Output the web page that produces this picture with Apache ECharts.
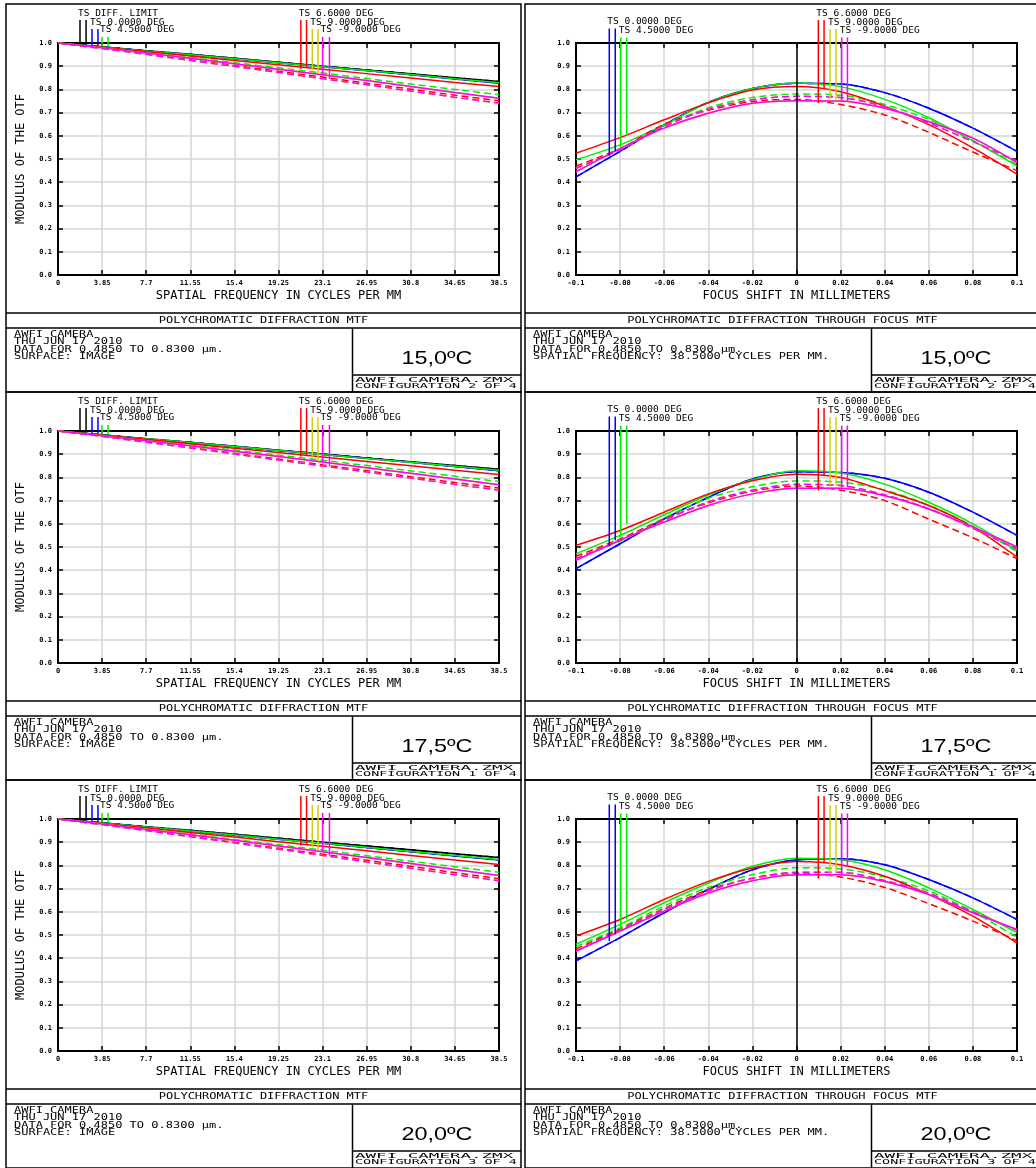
<!DOCTYPE html>
<html>
<head>
<meta charset="utf-8">
<script src="https://cdn.jsdelivr.net/npm/echarts@6/dist/echarts.min.js"></script>
<style>
html, body { margin: 0; padding: 0; background: #fff; }
#chart { width: 1036px; height: 1168px; }
</style>
</head>
<body>
<div id="chart"></div>
<script>
// ---- axis values / tick labels ----
var freqs = [0, 3.85, 7.7, 11.55, 15.4, 19.25, 23.1, 26.95, 30.8, 34.65, 38.5];
var freqTicks = ['0', '3.85', '7.7', '11.55', '15.4', '19.25', '23.1', '26.95', '30.8', '34.65', '38.5'];
var focusShift = [-0.1, -0.08, -0.06, -0.04, -0.02, 0, 0.02, 0.04, 0.06, 0.08, 0.1];
var focusTicks = ['-0.1', '-0.08', '-0.06', '-0.04', '-0.02', '0', '0.02', '0.04', '0.06', '0.08', '0.1'];
var mtfTicks = ['0.0', '0.1', '0.2', '0.3', '0.4', '0.5', '0.6', '0.7', '0.8', '0.9', '1.0'];

// ---- MTF vs spatial frequency (T solid, S dashed) ----
// 15,0 C
var mtf15Diff = [1.000, 0.984, 0.967, 0.951, 0.934, 0.917, 0.900, 0.884, 0.867, 0.850, 0.834];
var mtf15Axis = [1.000, 0.983, 0.966, 0.949, 0.932, 0.915, 0.898, 0.881, 0.863, 0.845, 0.827];
var mtf15F45T = [1.000, 0.983, 0.966, 0.949, 0.932, 0.915, 0.898, 0.881, 0.864, 0.846, 0.829];
var mtf15F45S = [1.000, 0.980, 0.959, 0.937, 0.915, 0.893, 0.871, 0.847, 0.823, 0.800, 0.777];
var mtf15F66T = [1.000, 0.982, 0.963, 0.944, 0.925, 0.906, 0.887, 0.868, 0.849, 0.830, 0.812];
var mtf15F66S = [1.000, 0.977, 0.953, 0.928, 0.903, 0.878, 0.853, 0.827, 0.801, 0.775, 0.751];
var mtf15F9T = [1.000, 0.979, 0.957, 0.934, 0.911, 0.887, 0.863, 0.838, 0.813, 0.787, 0.762];
var mtf15F9S = [1.000, 0.976, 0.951, 0.925, 0.899, 0.873, 0.846, 0.820, 0.793, 0.766, 0.741];
// 17,5 C
var mtf175Diff = [1.000, 0.984, 0.967, 0.951, 0.934, 0.917, 0.901, 0.884, 0.867, 0.851, 0.835];
var mtf175Axis = [1.000, 0.983, 0.966, 0.950, 0.933, 0.916, 0.899, 0.882, 0.865, 0.847, 0.829];
var mtf175F45T = [1.000, 0.983, 0.967, 0.950, 0.933, 0.916, 0.899, 0.882, 0.865, 0.848, 0.831];
var mtf175F45S = [1.000, 0.980, 0.960, 0.939, 0.918, 0.896, 0.874, 0.851, 0.828, 0.805, 0.782];
var mtf175F66T = [1.000, 0.982, 0.964, 0.945, 0.926, 0.907, 0.888, 0.869, 0.850, 0.831, 0.813];
var mtf175F66S = [1.000, 0.977, 0.953, 0.929, 0.904, 0.879, 0.854, 0.829, 0.803, 0.778, 0.754];
var mtf175F9T = [1.000, 0.979, 0.958, 0.936, 0.913, 0.890, 0.866, 0.842, 0.818, 0.793, 0.768];
var mtf175F9S = [1.000, 0.977, 0.952, 0.927, 0.901, 0.875, 0.849, 0.823, 0.797, 0.770, 0.745];
// 20,0 C
var mtf20Diff = [1.000, 0.984, 0.967, 0.951, 0.934, 0.917, 0.900, 0.884, 0.867, 0.850, 0.834];
var mtf20Axis = [1.000, 0.983, 0.965, 0.948, 0.930, 0.913, 0.895, 0.877, 0.859, 0.841, 0.823];
var mtf20F45T = [1.000, 0.983, 0.966, 0.948, 0.931, 0.913, 0.896, 0.878, 0.860, 0.843, 0.825];
var mtf20F45S = [1.000, 0.979, 0.957, 0.935, 0.912, 0.889, 0.866, 0.842, 0.818, 0.794, 0.770];
var mtf20F66T = [1.000, 0.981, 0.962, 0.942, 0.922, 0.902, 0.883, 0.863, 0.843, 0.823, 0.804];
var mtf20F66S = [1.000, 0.976, 0.951, 0.926, 0.900, 0.874, 0.848, 0.822, 0.796, 0.769, 0.743];
var mtf20F9T = [1.000, 0.978, 0.955, 0.932, 0.908, 0.884, 0.859, 0.834, 0.808, 0.782, 0.756];
var mtf20F9S = [1.000, 0.976, 0.950, 0.924, 0.897, 0.870, 0.843, 0.815, 0.788, 0.760, 0.734];

// ---- through focus MTF at 38.5 cycles/mm ----
var tf15Axis = [0.423, 0.533, 0.647, 0.744, 0.804, 0.826, 0.823, 0.786, 0.719, 0.633, 0.533];
var tf15F45T = [0.497, 0.561, 0.647, 0.743, 0.804, 0.828, 0.812, 0.757, 0.678, 0.578, 0.470];
var tf15F45S = [0.460, 0.540, 0.640, 0.721, 0.765, 0.780, 0.775, 0.735, 0.670, 0.580, 0.475];
var tf15F66T = [0.525, 0.592, 0.669, 0.742, 0.797, 0.812, 0.790, 0.728, 0.648, 0.548, 0.435];
var tf15F66S = [0.470, 0.545, 0.650, 0.710, 0.748, 0.757, 0.735, 0.690, 0.615, 0.530, 0.450];
var tf15F9T = [0.445, 0.545, 0.633, 0.697, 0.740, 0.751, 0.750, 0.719, 0.661, 0.590, 0.485];
var tf15F9S = [0.460, 0.540, 0.640, 0.715, 0.755, 0.770, 0.765, 0.725, 0.655, 0.575, 0.490];

var tf175Axis = [0.407, 0.514, 0.621, 0.714, 0.793, 0.824, 0.821, 0.796, 0.736, 0.650, 0.550];
var tf175F45T = [0.471, 0.550, 0.639, 0.724, 0.790, 0.829, 0.819, 0.771, 0.693, 0.600, 0.486];
var tf175F45S = [0.450, 0.525, 0.625, 0.710, 0.760, 0.785, 0.780, 0.745, 0.680, 0.590, 0.480];
var tf175F66T = [0.507, 0.571, 0.650, 0.729, 0.786, 0.814, 0.800, 0.743, 0.679, 0.586, 0.457];
var tf175F66S = [0.460, 0.535, 0.620, 0.690, 0.740, 0.763, 0.745, 0.700, 0.620, 0.540, 0.450];
var tf175F9T = [0.443, 0.529, 0.607, 0.679, 0.729, 0.753, 0.753, 0.721, 0.664, 0.586, 0.500];
var tf175F9S = [0.450, 0.530, 0.615, 0.695, 0.745, 0.770, 0.765, 0.725, 0.665, 0.580, 0.490];

var tf20Axis = [0.389, 0.489, 0.596, 0.696, 0.781, 0.824, 0.829, 0.803, 0.739, 0.660, 0.567];
var tf20F45T = [0.460, 0.546, 0.639, 0.724, 0.796, 0.831, 0.824, 0.781, 0.703, 0.610, 0.510];
var tf20F45S = [0.450, 0.530, 0.625, 0.705, 0.760, 0.790, 0.785, 0.750, 0.690, 0.600, 0.490];
var tf20F66T = [0.496, 0.567, 0.653, 0.731, 0.789, 0.817, 0.803, 0.753, 0.674, 0.581, 0.465];
var tf20F66S = [0.440, 0.525, 0.615, 0.695, 0.745, 0.765, 0.750, 0.705, 0.635, 0.560, 0.475];
var tf20F9T = [0.431, 0.517, 0.603, 0.681, 0.734, 0.760, 0.760, 0.731, 0.674, 0.596, 0.524];
var tf20F9S = [0.430, 0.520, 0.610, 0.690, 0.745, 0.770, 0.770, 0.735, 0.680, 0.600, 0.520];

// ---- legend leaders (pairs of x, top, bottom ends) ----
var freqLeadNames = ['TS DIFF. LIMIT', 'TS 0.0000 DEG', 'TS 4.5000 DEG', 'TS 6.6000 DEG', 'TS 9.0000 DEG', 'TS -9.0000 DEG'];
var freqLeadX = [[1.92, 2.45], [2.97, 3.49], [3.84, 4.37], [21.2, 21.7], [22.2, 22.7], [23.1, 23.7]];
var freqLeadTop = [1.099, 1.06, 1.026, 1.099, 1.06, 1.026];
var freqLeadBottom15 = [[0.996, 0.995], [0.990, 0.989], [0.987, 0.985], [0.888, 0.895], [0.881, 0.869], [0.862, 0.845]];
var freqLeadBottom175 = [[0.996, 0.995], [0.990, 0.989], [0.987, 0.985], [0.890, 0.896], [0.884, 0.872], [0.865, 0.848]];
var freqLeadBottom20 = [[0.996, 0.995], [0.990, 0.988], [0.986, 0.984], [0.886, 0.893], [0.878, 0.866], [0.859, 0.842]];

var focusLeadNames = ['TS 0.0000 DEG', 'TS 4.5000 DEG', 'TS 6.6000 DEG', 'TS 9.0000 DEG', 'TS -9.0000 DEG'];
var focusLeadX = [[-0.0849, -0.0822], [-0.0797, -0.0770], [0.0099, 0.0125], [0.0152, 0.0179], [0.0205, 0.0231]];
var focusLeadTop = [1.063, 1.024, 1.099, 1.06, 1.024];
var focusLeadBottom15 = [[0.514, 0.533], [0.552, 0.600], [0.741, 0.804], [0.761, 0.751], [0.751, 0.751]];
var focusLeadBottom175 = [[0.504, 0.529], [0.543, 0.600], [0.743, 0.810], [0.767, 0.764], [0.757, 0.757]];
var focusLeadBottom20 = [[0.474, 0.503], [0.524, 0.567], [0.743, 0.814], [0.763, 0.763], [0.760, 0.796]];

var temps = ['15,0ºC', '17,5ºC', '20,0ºC'];
var configs = ['CONFIGURATION 2 OF 4', 'CONFIGURATION 1 OF 4', 'CONFIGURATION 3 OF 4'];

var BLACK = '#000000', BLUE = '#0000ff', GREEN = '#00f000', RED = '#ff0000', YELLOW = '#d0d000', MAGENTA = '#ff00ff';
var MONO = '"DejaVu Sans Mono", "Liberation Mono", monospace';

// one entry per row; the 9.0 deg field mirrors -9.0 deg and is drawn under it
var rows = [
	{
		freq: [[mtf15Diff, mtf15Diff, BLACK], [mtf15Axis, mtf15Axis, BLUE], [mtf15F45T, mtf15F45S, GREEN], [mtf15F66T, mtf15F66S, RED], [mtf15F9T, mtf15F9S, YELLOW], [mtf15F9T, mtf15F9S, MAGENTA]],
		focus: [[tf15Axis, tf15Axis, BLUE], [tf15F45T, tf15F45S, GREEN], [tf15F66T, tf15F66S, RED], [tf15F9T, tf15F9S, YELLOW], [tf15F9T, tf15F9S, MAGENTA]],
		freqLead: freqLeadBottom15, focusLead: focusLeadBottom15
	},
	{
		freq: [[mtf175Diff, mtf175Diff, BLACK], [mtf175Axis, mtf175Axis, BLUE], [mtf175F45T, mtf175F45S, GREEN], [mtf175F66T, mtf175F66S, RED], [mtf175F9T, mtf175F9S, YELLOW], [mtf175F9T, mtf175F9S, MAGENTA]],
		focus: [[tf175Axis, tf175Axis, BLUE], [tf175F45T, tf175F45S, GREEN], [tf175F66T, tf175F66S, RED], [tf175F9T, tf175F9S, YELLOW], [tf175F9T, tf175F9S, MAGENTA]],
		freqLead: freqLeadBottom175, focusLead: focusLeadBottom175
	},
	{
		freq: [[mtf20Diff, mtf20Diff, BLACK], [mtf20Axis, mtf20Axis, BLUE], [mtf20F45T, mtf20F45S, GREEN], [mtf20F66T, mtf20F66S, RED], [mtf20F9T, mtf20F9S, YELLOW], [mtf20F9T, mtf20F9S, MAGENTA]],
		focus: [[tf20Axis, tf20Axis, BLUE], [tf20F45T, tf20F45S, GREEN], [tf20F66T, tf20F66S, RED], [tf20F9T, tf20F9S, YELLOW], [tf20F9T, tf20F9S, MAGENTA]],
		freqLead: freqLeadBottom20, focusLead: focusLeadBottom20
	}
];

var ROW_H = 388;
var PANEL_W = 515;
var panelX = [6, 525];
var gridLeft = [58, 576];

var chart = echarts.init(document.getElementById('chart'));

var grids = [], xAxes = [], yAxes = [], series = [], leadLabels = [];

function axisCommon (gridIndex, min, max, interval) {
	return {
		gridIndex: gridIndex,
		type: 'value',
		min: min,
		max: max,
		interval: interval,
		axisLine: { show: true, onZero: false, lineStyle: { color: '#000', width: 2 } },
		axisTick: { show: true, inside: true, length: 5, lineStyle: { color: '#000', width: 1.5 } },
		splitLine: { show: false },
		axisLabel: { show: false }
	};
}

function tickLabel (arr, fn) {
	return {
		show: true,
		fontFamily: MONO,
		fontSize: 7,
		fontWeight: 'bold',
		color: '#000',
		margin: 5,
		formatter: function (v) { return arr[fn(v)]; }
	};
}

function curve (g, xs, ys, color, dashed, smooth) {
	return {
		type: 'line',
		xAxisIndex: 2 * g,
		yAxisIndex: 2 * g,
		silent: true,
		symbol: 'none',
		smooth: smooth,
		lineStyle: { color: color, width: 1.5, type: dashed ? [7, 4] : 'solid' },
		data: xs.map(function (x, i) { return [x, ys[i]]; })
	};
}

function leaders (g, names, xs, tops, bottoms, colors) {
	names.forEach(function (name, k) {
		xs[k].forEach(function (x, j) {
			series.push({
				type: 'line',
				xAxisIndex: 2 * g,
				yAxisIndex: 2 * g,
				silent: true,
				clip: false,
				symbol: 'none',
				z: 4,
				lineStyle: { color: colors[k], width: 1.5 },
				data: [[x, bottoms[k][j]], [x, tops[k]]]
			});
		});
		leadLabels.push({ g: g, x: xs[k][0], y: tops[k], text: name });
	});
}

rows.forEach(function (row, r) {
	for (var c = 0; c < 2; c++) {
		var g = r * 2 + c;
		var focus = c === 1;
		grids.push({ left: gridLeft[c], top: r * ROW_H + 43, width: 441, height: 232 });

		var xMain = focus ? axisCommon(g, -0.1, 0.1, 0.02) : axisCommon(g, 0, 38.5, 3.85);
		xMain.position = 'bottom';
		xMain.splitLine = { show: true, lineStyle: { color: '#d6d6d6', width: 1.5 } };
		xMain.axisLabel = focus
			? tickLabel(focusTicks, function (v) { return Math.round((v + 0.1) / 0.02); })
			: tickLabel(freqTicks, function (v) { return Math.round(v / 3.85); });
		xMain.name = focus ? 'FOCUS SHIFT IN MILLIMETERS' : 'SPATIAL FREQUENCY IN CYCLES PER MM';
		xMain.nameLocation = 'middle';
		xMain.nameGap = 15;
		xMain.nameTextStyle = { fontFamily: MONO, fontSize: 12, color: '#000' };
		var xTop = focus ? axisCommon(g, -0.1, 0.1, 0.02) : axisCommon(g, 0, 38.5, 3.85);
		xTop.position = 'top';
		xAxes.push(xMain, xTop);

		var yMain = axisCommon(g, 0, 1, 0.1);
		yMain.position = 'left';
		yMain.splitLine = { show: true, lineStyle: { color: '#d6d6d6', width: 1.5 } };
		yMain.axisLabel = tickLabel(mtfTicks, function (v) { return Math.round(v * 10); });
		yMain.axisLabel.margin = 6;
		if (!focus) {
			yMain.name = 'MODULUS OF THE OTF';
			yMain.nameLocation = 'middle';
			yMain.nameGap = 31;
			yMain.nameRotate = 90;
			yMain.nameTextStyle = { fontFamily: MONO, fontSize: 12, color: '#000' };
		}
		var yRight = axisCommon(g, 0, 1, 0.1);
		yRight.position = 'right';
		yAxes.push(yMain, yRight);

		var sets = focus ? row.focus : row.freq;
		var xs = focus ? focusShift : freqs;
		sets.forEach(function (s, k) {
			var t = curve(g, xs, s[0], s[2], false, focus ? 0.3 : false);
			if (focus && k === 0) {
				// zero focus shift line
				t.markLine = {
					silent: true,
					symbol: ['none', 'none'],
					label: { show: false },
					lineStyle: { color: '#000', type: 'solid', width: 1.5 },
					data: [{ xAxis: 0 }]
				};
			}
			series.push(t);
			series.push(curve(g, xs, s[1], s[2], true, focus ? 0.3 : false));
		});

		if (focus) {
			leaders(g, focusLeadNames, focusLeadX, focusLeadTop, row.focusLead, [BLUE, GREEN, RED, YELLOW, MAGENTA]);
		} else {
			leaders(g, freqLeadNames, freqLeadX, freqLeadTop, row.freqLead, [BLACK, BLUE, GREEN, RED, YELLOW, MAGENTA]);
		}
	}
});

chart.setOption({
	animation: false,
	backgroundColor: '#fff',
	grid: grids,
	xAxis: xAxes,
	yAxis: yAxes,
	series: series
});

// ---- frames and text blocks ----
function seg (x1, y1, x2, y2) {
	return { type: 'line', silent: true, shape: { x1: x1, y1: y1, x2: x2, y2: y2 }, style: { stroke: '#000', lineWidth: 1.5 } };
}
function txt (text, x, y, opt) {
	opt = opt || {};
	return {
		type: 'text',
		silent: true,
		x: x,
		y: y,
		scaleX: opt.sx || 1,
		scaleY: opt.sy || 1,
		style: {
			text: text,
			font: (opt.font || (opt.size || 12) + 'px ' + MONO),
			fill: '#000',
			textAlign: opt.align || 'left',
			textVerticalAlign: 'middle'
		}
	};
}

var elements = [];
rows.forEach(function (row, r) {
	for (var c = 0; c < 2; c++) {
		var x0 = panelX[c], y0 = r * ROW_H;
		var focus = c === 1;
		elements.push({ type: 'rect', silent: true, shape: { x: x0, y: y0 + 4, width: PANEL_W, height: 388 }, style: { fill: 'none', stroke: '#000', lineWidth: 1.5 } });
		elements.push(seg(x0, y0 + 313, x0 + PANEL_W, y0 + 313));
		elements.push(seg(x0, y0 + 328, x0 + PANEL_W, y0 + 328));
		elements.push(seg(x0 + 346.5, y0 + 328, x0 + 346.5, y0 + 392));
		elements.push(seg(x0 + 346.5, y0 + 375, x0 + PANEL_W, y0 + 375));
		elements.push(txt(focus ? 'POLYCHROMATIC DIFFRACTION THROUGH FOCUS MTF' : 'POLYCHROMATIC DIFFRACTION MTF',
			x0 + 257.5, y0 + 320.5, { align: 'center', sy: 0.75 }));
		var lines = ['AWFI CAMERA', 'THU JUN 17 2010', 'DATA FOR 0.4850 TO 0.8300 µm.',
			focus ? 'SPATIAL FREQUENCY: 38.5000 CYCLES PER MM.' : 'SURFACE: IMAGE'];
		lines.forEach(function (l, i) {
			elements.push(txt(l, x0 + 8, y0 + 334.5 + i * 7.5, { sy: 0.66 }));
		});
		elements.push(txt(temps[r], x0 + 431, y0 + 359.5, { align: 'center', font: '18px "Liberation Sans", Arial, sans-serif', sx: 1.3 }));
		elements.push(txt('AWFI_CAMERA.ZMX', x0 + 349, y0 + 380, { sx: 1.46, sy: 0.62 }));
		elements.push(txt(configs[r], x0 + 349, y0 + 386.5, { sx: 1.12, sy: 0.62 }));
	}
});

// leader captions sit just above the top end of each first leader line
leadLabels.forEach(function (l) {
	var p = chart.convertToPixel({ xAxisIndex: 2 * l.g, yAxisIndex: 2 * l.g }, [l.x, l.y]);
	elements.push(txt(l.text, p[0] - 2, p[1] - 7, { size: 9.5 }));
});

chart.setOption({ graphic: { elements: elements } });
</script>
</body>
</html>
